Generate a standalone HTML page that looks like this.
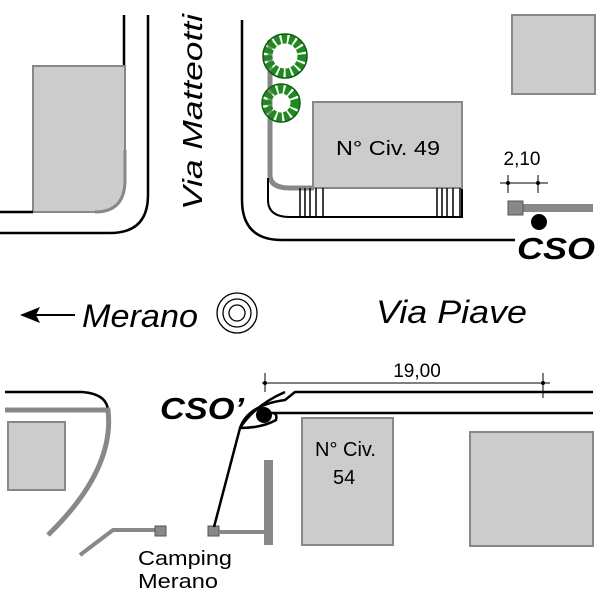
<!DOCTYPE html>
<html><head><style>html,body{margin:0;padding:0;background:#fff;}svg{display:block}</style></head>
<body>
<svg width="600" height="600" viewBox="0 0 600 600" xmlns="http://www.w3.org/2000/svg" font-family="Liberation Sans, sans-serif">
<path d="M124 15 V66" stroke="#000" stroke-width="2.5" fill="none"/>
<path d="M33 66 H125 V180 Q125 212 95 212 H33 Z" fill="#cccccc" stroke="#888" stroke-width="2"/>
<path d="M125 150 V180 Q125 212 95 212" fill="none" stroke="#888" stroke-width="3"/>
<path d="M0 212 H33" stroke="#000" stroke-width="2.5"/>
<path d="M148 15 V195 Q148 233 110 233 H0" stroke="#000" stroke-width="2.5" fill="none"/>
<text transform="translate(202,210) rotate(-90)" font-size="28" font-style="italic" textLength="196" lengthAdjust="spacingAndGlyphs">Via Matteotti</text>
<path d="M242 20 V200 Q242 240 282 240 H515" stroke="#000" stroke-width="2.5" fill="none"/>
<path d="M270 40 V175 Q270 188 290 188 H314" stroke="#888" stroke-width="5" fill="none"/>
<path d="M268 178 V200 Q268 217 290 217 H462 V188" stroke="#000" stroke-width="2" fill="none"/>
<rect x="313" y="102" width="149" height="86" fill="#cccccc" stroke="#888" stroke-width="2"/>
<text x="336" y="155" font-size="20" textLength="104" lengthAdjust="spacingAndGlyphs">N° Civ. 49</text>
<g stroke="#000" stroke-width="1.5">
<line x1="300" y1="188" x2="300" y2="217"/><line x1="305" y1="188" x2="305" y2="217"/><line x1="310" y1="188" x2="310" y2="217"/><line x1="316" y1="188" x2="316" y2="217"/><line x1="323" y1="188" x2="323" y2="217"/>
<line x1="437" y1="188" x2="437" y2="217"/><line x1="442" y1="188" x2="442" y2="217"/><line x1="447" y1="188" x2="447" y2="217"/><line x1="453" y1="188" x2="453" y2="217"/><line x1="460" y1="188" x2="460" y2="217"/>
</g>
<g fill="none" stroke="#1f8a1f" stroke-width="9" stroke-dasharray="5 2">
<circle cx="285" cy="56" r="17"/><circle cx="281" cy="103" r="14"/>
</g>
<g fill="none" stroke="#0b5e0b" stroke-width="1.5">
<circle cx="285" cy="56" r="22"/><circle cx="281" cy="103" r="19"/>
</g>
<rect x="512" y="15" width="83" height="79" fill="#cccccc" stroke="#888" stroke-width="2"/>
<text x="522" y="165" font-size="19" text-anchor="middle">2,10</text>
<path d="M500 183 H548 M508 175 V193 M538 175 V193" stroke="#000" stroke-width="1"/>
<circle cx="508" cy="183" r="2"/><circle cx="538" cy="183" r="2"/>
<rect x="508" y="204" width="85" height="8" fill="#888"/>
<rect x="508" y="201" width="15" height="14" fill="#888" stroke="#555" stroke-width="1"/>
<circle cx="539" cy="222" r="8" fill="#000"/>
<text x="517" y="259" font-size="31" font-weight="bold" font-style="italic" textLength="78" lengthAdjust="spacingAndGlyphs">CSO</text>
<path d="M22 315 H75" stroke="#000" stroke-width="2"/>
<path d="M20 315 L40 307 L36 315 L40 323 Z" fill="#000"/>
<text x="82" y="327" font-size="32" font-style="italic" textLength="116" lengthAdjust="spacingAndGlyphs">Merano</text>
<g fill="none" stroke="#000" stroke-width="1.3"><circle cx="237" cy="313" r="20"/><circle cx="237" cy="313" r="14"/><circle cx="237" cy="313" r="8"/></g>
<text x="376" y="323" font-size="32" font-style="italic" textLength="151" lengthAdjust="spacingAndGlyphs">Via Piave</text>
<path d="M5 392 H82 Q108 394 108 412" stroke="#000" stroke-width="2.5" fill="none"/>
<path d="M5 410 H108 Q115 470 48 535" stroke="#888" stroke-width="5" fill="none"/>
<rect x="8" y="422" width="57" height="68" fill="#cccccc" stroke="#888" stroke-width="2"/>
<path d="M80 555 L113 530 H155" stroke="#888" stroke-width="4" fill="none"/>
<rect x="155" y="526" width="11" height="10" fill="#888" stroke="#555" stroke-width="1"/>
<text x="138" y="565" font-size="20" textLength="94" lengthAdjust="spacingAndGlyphs">Camping</text>
<text x="138" y="588" font-size="20" textLength="80" lengthAdjust="spacingAndGlyphs">Merano</text>
<rect x="208" y="526" width="11" height="10" fill="#888" stroke="#555" stroke-width="1"/>
<path d="M219 532 H265" stroke="#888" stroke-width="4"/>
<rect x="264" y="460" width="9" height="85" fill="#888"/>
<path d="M214 527 L240 428 Q248 405 285 400 L295 392 H593" stroke="#000" stroke-width="2.5" fill="none"/>
<path d="M240 428 Q255 405 285 392" stroke="#000" stroke-width="2.5" fill="none"/>
<path d="M240 428 Q262 428 276 420 Q278 412 270 413 H593" stroke="#000" stroke-width="2.5" fill="none"/>
<circle cx="264" cy="415" r="8" fill="#000"/>
<text x="160" y="419" font-size="31" font-weight="bold" font-style="italic" textLength="84" lengthAdjust="spacingAndGlyphs">CSO’</text>
<path d="M262 383 H550 M265 373 V392 M543 373 V398" stroke="#000" stroke-width="1"/>
<circle cx="265" cy="383" r="2"/><circle cx="543" cy="383" r="2"/>
<text x="417" y="377" font-size="19" text-anchor="middle">19,00</text>
<rect x="302" y="418" width="91" height="127" fill="#cccccc" stroke="#888" stroke-width="2"/>
<text x="315" y="456" font-size="20">N° Civ.</text>
<text x="333" y="484" font-size="20">54</text>
<rect x="470" y="432" width="123" height="114" fill="#cccccc" stroke="#888" stroke-width="2"/>
</svg>
</body></html>
